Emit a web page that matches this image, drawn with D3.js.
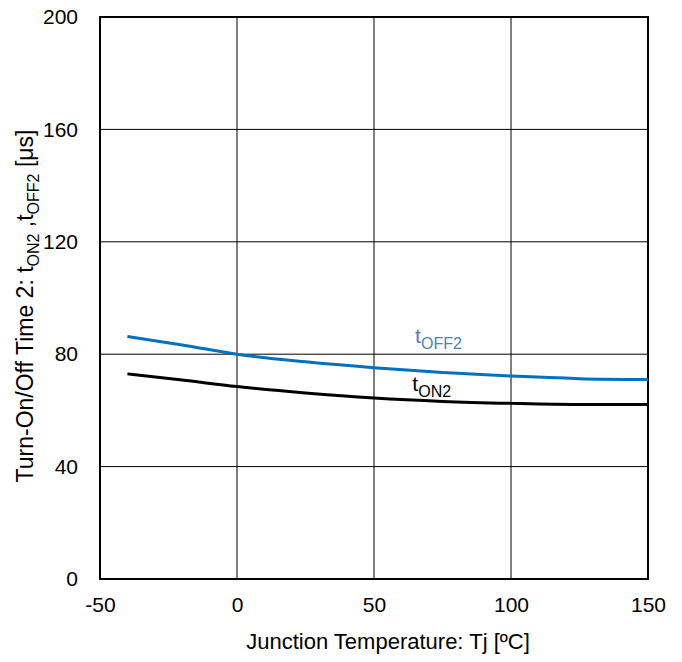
<!DOCTYPE html>
<html lang="en">
<head>
<meta charset="UTF-8">
<title>Turn-On/Off Time 2 vs Junction Temperature</title>
<script src="https://d3js.org/d3.v7.min.js"></script>
<style>
    body { margin: 0; background: #fff; }
    text { font-family: "Liberation Sans", Arial, sans-serif; fill: #000; }
    .grid line { stroke: #000; stroke-width: 1px; }
    .series { fill: none; stroke-width: 3px; }
</style>
</head>
<body>
<svg id="chart" width="682" height="662"></svg>
<script>
    // values
    const temps = [-40, -20, 0, 25, 50, 75, 100, 125, 150];
    const tOff2 = [86.3, 83.3, 80, 77.3, 75.2, 73.5, 72.2, 71.3, 71];
    const tOn2 = [73, 70.8, 68.5, 66.2, 64.4, 63.2, 62.5, 62.1, 62.1];
    const xTicks = [-50, 0, 50, 100, 150];
    const yTicks = [0, 40, 80, 120, 160, 200];

    const margin = { left: 100, right: 34, top: 17, bottom: 83 };
    const width = 682, height = 662;

    const svg = d3.select("#chart");

    const x = d3.scaleLinear().domain([-50, 150]).range([margin.left, width - margin.right]);
    const y = d3.scaleLinear().domain([0, 200]).range([height - margin.bottom, margin.top]);

    // grid
    const grid = svg.append("g").attr("class", "grid");
    grid.selectAll(".vx").data(xTicks).enter().append("line")
        .attr("x1", d => x(d)).attr("x2", d => x(d))
        .attr("y1", y(0)).attr("y2", y(200));
    grid.selectAll(".hy").data(yTicks).enter().append("line")
        .attr("x1", x(-50)).attr("x2", x(150))
        .attr("y1", d => y(d)).attr("y2", d => y(d));

    // frame
    svg.append("rect")
        .attr("x", x(-50)).attr("y", y(200))
        .attr("width", x(150) - x(-50)).attr("height", y(0) - y(200))
        .attr("fill", "none").attr("stroke", "#000").attr("stroke-width", 2);

    // axes (labels only)
    const xAxis = svg.append("g")
        .attr("transform", `translate(0,${y(0)})`)
        .call(d3.axisBottom(x).tickValues(xTicks).tickFormat(d => String(d)).tickSize(0).tickPadding(18));
    xAxis.select(".domain").remove();
    xAxis.selectAll("text").style("font-size", "21px").style("font-family", "Liberation Sans, Arial, sans-serif");

    const yAxis = svg.append("g")
        .attr("transform", `translate(${x(-50)},0)`)
        .call(d3.axisLeft(y).tickValues(yTicks).tickFormat(d => String(d)).tickSize(0).tickPadding(22));
    yAxis.select(".domain").remove();
    yAxis.selectAll("text").style("font-size", "21px").style("font-family", "Liberation Sans, Arial, sans-serif");

    // series
    const line = d3.line().x((d, i) => x(temps[i])).y(d => y(d)).curve(d3.curveMonotoneX);
    svg.append("path").datum(tOn2).attr("class", "series").attr("stroke", "#000").attr("d", line);
    svg.append("path").datum(tOff2).attr("class", "series").attr("stroke", "#0070c0").attr("d", line);

    // series labels
    const offLbl = svg.append("text").attr("x", x(65)).attr("y", y(84))
        .style("font-size", "21px").style("fill", "#4a7fc1");
    offLbl.append("tspan").text("t");
    offLbl.append("tspan").attr("dy", 6).style("font-size", "16px").text("OFF2");

    const onLbl = svg.append("text").attr("x", x(64)).attr("y", y(67))
        .style("font-size", "21px");
    onLbl.append("tspan").text("t");
    onLbl.append("tspan").attr("dy", 6).style("font-size", "16px").text("ON2");

    // axis titles
    svg.append("text")
        .attr("x", (x(-50) + x(150)) / 2 + 14).attr("y", 649)
        .attr("text-anchor", "middle").style("font-size", "22px")
        .text("Junction Temperature: Tj [ºC]");

    const yt = svg.append("text")
        .attr("transform", `translate(33,306) rotate(-90)`)
        .attr("text-anchor", "middle").style("font-size", "23px");
    yt.append("tspan").text("Turn-On/Off Time 2: t");
    yt.append("tspan").attr("dy", 6).style("font-size", "16px").text("ON2");
    yt.append("tspan").attr("dy", -6).text(" ,t");
    yt.append("tspan").attr("dy", 6).style("font-size", "16px").text("OFF2");
    yt.append("tspan").attr("dy", -6).text(" [μs]");
</script>
</body>
</html>
